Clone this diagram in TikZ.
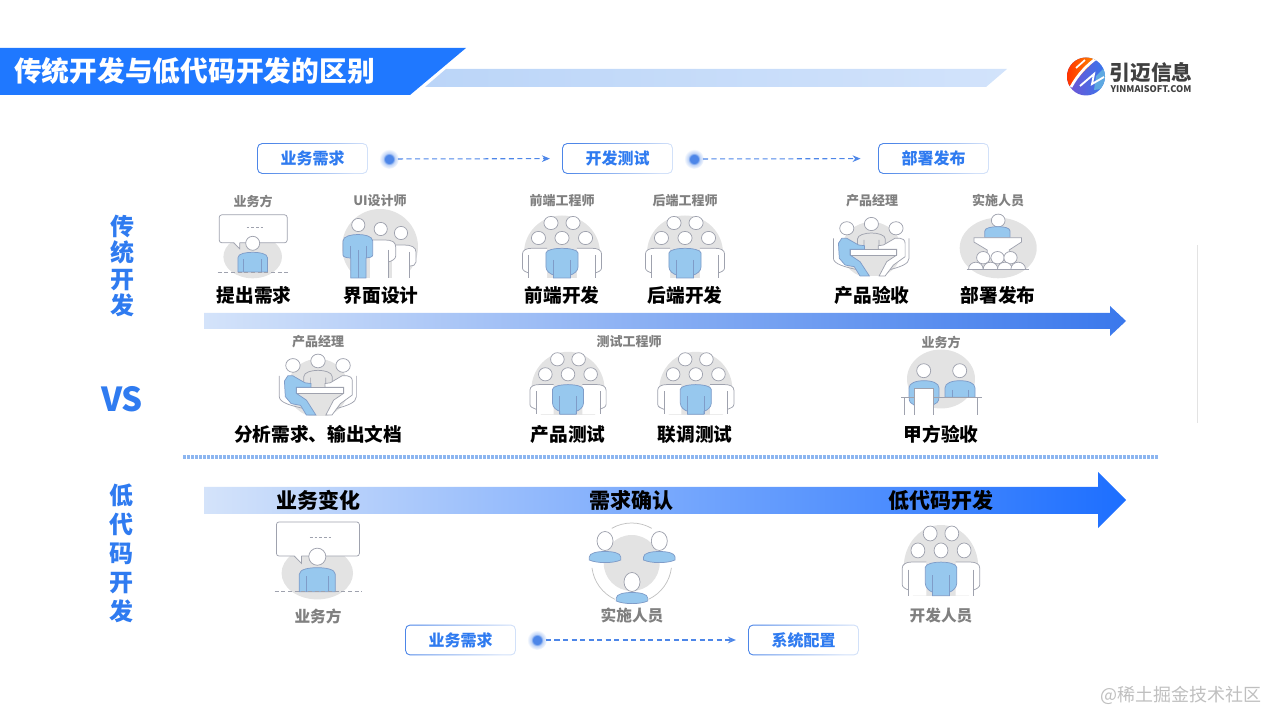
\documentclass[tikz,border=0pt]{standalone}
\usepackage{fontspec}
\setmainfont{Noto Sans CJK SC}
\usetikzlibrary{arrows.meta}
\definecolor{titleblue}{HTML}{1F78FF}
\definecolor{textblue}{HTML}{2F7BF0}
\definecolor{bandblue}{HTML}{BBD5F8}
\definecolor{bandpale}{HTML}{D2E3FB}
\definecolor{barpale}{HTML}{D4E3FA}
\definecolor{barend}{HTML}{3A78EC}
\definecolor{bodyblue}{HTML}{97C8EE}
\definecolor{bodyline}{HTML}{7F9CC8}
\definecolor{discgray}{HTML}{E3E3E3}
\definecolor{linegray}{HTML}{9FA2AE}
\definecolor{rolegray}{HTML}{808080}
\definecolor{dashblue}{HTML}{4D86E8}
\definecolor{dividerblue}{HTML}{8DB6F0}
\pgfdeclareradialshading{dotglow}{\pgfpoint{0bp}{0bp}}{color(0bp)=(dashblue); color(10bp)=(dashblue); color(15bp)=(dashblue!35!white); color(25bp)=(white); color(50bp)=(white)}
\tikzset{
  disc/.style={fill=discgray},
  blue body/.style={fill=bodyblue, draw=bodyline, line width=0.55pt},
  white body/.style={fill=white, draw=linegray, line width=0.55pt},
  thin line/.style={draw=linegray, line width=0.55pt},
  head/.style={fill=white, draw=linegray, line width=0.55pt},
  stepbox/.style={rounded corners=3.5pt, minimum width=83pt, minimum height=23pt, inner sep=0pt,
    left color=dashblue, right color=dashblue!25!white, shading angle=70,
    text=textblue, font=\bfseries\fontsize{12}{14}\selectfont,
    path picture={\fill[white, rounded corners=2.8pt]
      ([shift={(0.8pt,0.8pt)}]path picture bounding box.south west) rectangle
      ([shift={(-0.8pt,-0.8pt)}]path picture bounding box.north east);}},
  glowdot/.style={circle, minimum size=15pt, inner sep=0pt, shading=dotglow},
  flow/.style={dash pattern=on 3.8pt off 2.6pt, draw=dashblue, line width=0.8pt, -{Stealth[length=6pt, width=5pt]}, shorten <=-1pt, shorten >=9pt},
  task/.style={font=\bfseries\fontsize{14}{16}\selectfont, text=black, inner sep=0pt},
  role/.style={font=\bfseries\fontsize{9.75}{11}\selectfont, text=rolegray, inner sep=0pt},
  bigrole/.style={font=\bfseries\fontsize{11.75}{13}\selectfont, text=rolegray, inner sep=0pt},
  bartask/.style={font=\bfseries\fontsize{15.75}{18}\selectfont, text=black, inner sep=0pt},
  sidetext/.style={font=\bfseries\fontsize{18}{#1}\selectfont, text=textblue, align=center, inner sep=0pt},
  %% seven people drawn around the origin of the pic
  pics/crowd/.style={code={
    \begin{scope}
      \clip (-40,-40) rectangle (40,28);
      \fill[disc] (0,3) ellipse (35.5 and 37.5);
    \end{scope}
    \foreach \hx/\hy in {-10.3/-27,10.3/-27,-22/-12,0/-12,22/-12} {
      \draw[head] (\hx,\hy) circle (6.6);
    }
    \foreach \s in {-1,1} {
      \begin{scope}[xscale=\s]
        \path[fill=white] (-14,-1.7) -- (-28.3,-1.7) .. controls (-33,-1.7) and (-37,0) .. (-37,4) -- (-37,18) .. controls (-37,20.5) and (-34,22) .. (-31,23) -- (-31,28) -- (-14,28) -- cycle;
        \draw[thin line] (-14,-1.7) -- (-28.3,-1.7) .. controls (-33,-1.7) and (-37,0) .. (-37,4) -- (-37,18) .. controls (-37,20.5) and (-34,22) .. (-31,23);
        \draw[thin line] (-31,5) -- (-31,28);
      \end{scope}
    }
    \draw[blue body] (-15,3) .. controls (-15,0) and (-7,-1.7) .. (0,-1.7) .. controls (7,-1.7) and (15,0) .. (15,3) -- (15,17) .. controls (15,21) and (11,24) .. (8,25) -- (8,28) -- (-8,28) -- (-8,25) .. controls (-11,24) and (-15,21) .. (-15,17) -- cycle;
    \draw[bodyline, line width=0.55pt] (-8,10) -- (-8,28) (8,10) -- (8,28);
  }},
  %% three people round a table
  pics/meeting/.style={code={
    \begin{scope}
      \clip (-40,-40) rectangle (40,26);
      \fill[disc] (0,0) circle (28);
    \end{scope}
    \draw[head] (-23,-21.7) circle (6.6) (0,-26) circle (6.6) (23,-21.7) circle (6.6);
    \draw[thin line] (-13,-1) -- (-13,-11) .. controls (-13,-15) and (-6,-17) .. (0,-17) .. controls (6,-17) and (13,-15) .. (13,-11) -- (13,-1) (-7,-10) -- (-7,-1) (7,-10) -- (7,-1);
    \draw[thin line] (-35.5,-11.7) -- (-35.5,8.3) .. controls (-35.5,14) and (-25,17) .. (-12,20);
    \draw[thin line] (35.2,-11.7) -- (35.2,8.3) .. controls (35.2,14) and (27,17) .. (15.9,20);
    \draw[white body] (31.5,-6.7) .. controls (31.5,-10) and (29,-11.7) .. (26.8,-11.7) -- (22,-11.7) -- (11.2,-5) -- (6.5,-4.3) -- (6.5,-0.7) -- (23.7,-0.7) -- (23.7,5) -- (14.3,11.7) -- (7.2,26) -- (12.8,26) -- (20.6,15) -- (31.5,6.7) -- cycle;
    \fill[white] (-20,-0.7) rectangle (23.7,5);
    \draw[thin line] (-20,-0.7) rectangle (23.7,5);
    \draw[blue body] (-30.8,-6.7) -- (-27.7,-11.7) -- (-23,-11.7) -- (-12,-5) -- (-6.5,-4.3) -- (-6.5,-0.7) -- (-20,-0.7) -- (-20,5) -- (-10.6,11.7) -- (-1.9,26) -- (-10.6,26) -- (-16,16.7) -- (-24.6,15) -- (-30,8.3) -- cycle;
  }},
  %% one person under a speech bubble
  pics/speaker/.style={code={
    \fill[disc] (0,13.5) ellipse (29.3 and 21.5);
    \draw[white body, rounded corners=2pt] (-33.5,-28.5) rectangle (34.5,-0.5);
    \fill[white] (-19,-1.5) -- (-13,5) -- (-13,-1.5) -- cycle;
    \draw[thin line] (-19,-0.5) -- (-13,5.5) -- (-13,-0.5);
    \draw[thin line, dash pattern=on 2pt off 1.5pt] (-6,-15.5) -- (11,-15.5);
    \draw[head] (0,0) circle (7);
    \draw[blue body] (-14.8,28.7) -- (-14.8,14.5) .. controls (-14.8,10) and (-6,9) .. (0,9) .. controls (6,9) and (14.8,10) .. (14.8,14.5) -- (14.8,28.7) -- cycle;
    \draw[bodyline, line width=0.55pt] (-9,16) -- (-9,28.7) (9,16) -- (9,28.7);
    \draw[thin line, dash pattern=on 3pt off 2pt] (-35,28.7) -- (37,28.7);
  }},
  %% one person at a lectern, audience below
  pics/lectern/.style={code={
    \fill[disc] (0,0) ellipse (36 and 30.3);
    \draw[head] (0,-27.5) circle (6.4);
    \draw[blue body] (-12.5,-10.3) -- (-12.5,-17) .. controls (-12.5,-20) and (-7,-21.3) .. (0,-21.3) .. controls (6,-21.3) and (11,-20) .. (11,-17) -- (11,-10.3) -- cycle;
    \draw[white body] (-22.7,-10.3) -- (21.8,-10.3) -- (21.8,-6) -- (10.3,2) -- (10.3,10) -- (-10.3,10) -- (-10.3,2) -- (-22.7,-6) -- cycle;
    \foreach \hx in {-14,-0.6,11.5} {
      \draw[head] (\hx,9.7) circle (6.2);
    }
    \foreach \hx in {-20.9,-7.2,6.2,18.7} {
      \path[fill=white] (\hx-6.8,21) arc[start angle=-180, end angle=0, radius=6.8] -- cycle;
      \draw[thin line] (\hx-6.8,21) arc[start angle=-180, end angle=0, radius=6.8];
    }
    \draw[thin line] (-29.6,21) -- (28.7,21);
  }}
}
\begin{document}
\begin{tikzpicture}[x=0.75pt, y=-0.75pt]
  \useasboundingbox (0,0) rectangle (1267,712);
  % title banner
  \path[left color=bandblue, right color=bandpale] (425,87) -- (446,69) -- (1007,69) -- (986,87) -- cycle;
  \fill[titleblue] (0,48) -- (466,48) -- (410,95) -- (0,95) -- cycle;
  \node[text=white, font=\bfseries\fontsize{20.8}{24}\selectfont, anchor=west, inner sep=0pt] (title) at (14,71) {传统开发与低代码开发的区别};
  % logo
  \begin{scope}
    \clip (1086,76.5) circle (19);
    \shade[left color=blue!45!violet!70!white, right color=textblue] (1060,55) rectangle (1110,100);
    \shade[left color=red!70!orange, right color=orange!85!yellow] (1062,55) -- (1100,55) -- (1064,92) -- cycle;
    \fill[cyan!70!blue!65!white] (1110,62) -- (1110,88) -- (1094,90) -- (1096,76) -- cycle;
    \draw[white, line width=2pt] (1097,58) .. controls (1088,64) and (1078,74) .. (1071,87);
    \draw[white, line width=1.3pt] (1076,68) -- (1085,60);
    \draw[white, line width=1.4pt] (1080,86) -- (1094,74) -- (1092,84) -- (1104,77);
  \end{scope}
  \node[text=black!75, font=\bfseries\fontsize{15.6}{18}\selectfont, inner sep=0pt] (logotext) at (1151,73) {引迈信息};
  \node[text=black!75, font=\bfseries\fontsize{6.9}{8}\selectfont, inner sep=0pt] (logourl) at (1151,89) {YINMAISOFT.COM};
  % top flow
  \node[stepbox] (need) at (312.5,158.5) {业务需求};
  \node[stepbox] (dev) at (617.5,158.5) {开发测试};
  \node[stepbox] (release) at (933.5,158.5) {部署发布};
  \node[glowdot] (needdot) at (389,159) {};
  \node[glowdot] (devdot) at (694,159) {};
  \draw[flow] (needdot) -- (dev);
  \draw[flow, shorten >=13pt] (devdot) -- (release);
  % side labels
  \node[sidetext=19.9] (oldlabel) at (122,266) {传\\统\\开\\发};
  \node[sidetext=21.75] (lowlabel) at (121,553) {低\\代\\码\\开\\发};
  \node[text=textblue, font=\bfseries\fontsize{24.8}{28}\selectfont, inner sep=0pt] (vs) at (122,399) {VS};
  % role labels
  \foreach \a/\p [count=\n] in {业务方/{253,201},UI设计师/{380,201},前端工程师/{562,201},后端工程师/{685,201},产品经理/{872,201},实施人员/{998,201},产品经理/{318,342},测试工程师/{629,342},业务方/{941,342}} {
    \node[role] (role\n) at (\p) {\a};
  }
  % task labels
  \foreach \a/\p [count=\n] in {提出需求/{254,295.5},界面设计/{381,295.5},前端开发/{562,295.5},后端开发/{685,295.5},产品验收/{872,295.5},部署发布/{998,295.5},分析需求、输出文档/{318,434.5},产品测试/{568,434.5},联调测试/{695,434.5},甲方验收/{941,434.5}} {
    \node[task] (task\n) at (\p) {\a};
  }
  % icons, top row
  \pic at (252.7,243.3) {speaker};
  \pic[xscale=1.07] at (562,250) {crowd};
  \pic[xscale=1.07] at (685,250) {crowd};
  \pic[xscale=1.07] at (871.4,250) {meeting};
  \pic[xscale=1.07] at (998.2,248) {lectern};
  % three people in a row
  \begin{scope}
    \clip (335,210) rectangle (425,278);
    \fill[disc] (380,247) circle (38);
  \end{scope}
  \draw[head] (401,233) circle (6.6);
  \path[fill=white] (392,245) -- (404,245) .. controls (411,245) and (416,247) .. (416,252) -- (416,262) .. controls (416,265) and (413,266) .. (409.3,266) -- (409.3,278) -- (392,278) -- cycle;
  \draw[thin line] (392,245) -- (404,245) .. controls (411,245) and (416,247) .. (416,252) -- (416,262) .. controls (416,265) and (413,266) .. (409.3,266);
  \draw[thin line] (409.3,252) -- (409.3,278);
  \draw[head] (380.7,229) circle (6.6);
  \path[fill=white] (370,240) -- (385,240) .. controls (392,240) and (395.7,242) .. (395.7,247) -- (395.7,256) .. controls (395.7,259) and (392,261) .. (388.3,262) -- (388.3,278) -- (370,278) -- cycle;
  \draw[thin line] (370,240) -- (385,240) .. controls (392,240) and (395.7,242) .. (395.7,247) -- (395.7,256) .. controls (395.7,259) and (392,261) .. (388.3,262);
  \draw[thin line] (388.3,250) -- (388.3,278);
  \draw[head] (358.3,225) circle (6.6);
  \draw[blue body] (343,241) .. controls (343,236) and (352,234.5) .. (358,234.5) .. controls (364,234.5) and (372.7,236) .. (372.7,241) -- (372.7,255) .. controls (372.7,257) and (369,258) .. (366,258) -- (366,278) -- (350.7,278) -- (350.7,258) .. controls (347,258) and (343,257) .. (343,255) -- cycle;
  \draw[bodyline, line width=0.55pt] (358.3,250) -- (358.3,278) (350.7,246) -- (350.7,258) (366,246) -- (366,258);
  % first arrow
  \path[left color=barpale, right color=barend] (204,313) -- (1110,313) -- (1110,306) -- (1126,321) -- (1110,336) -- (1110,329) -- (204,329) -- cycle;
  % icons, middle row
  \pic[xscale=1.09, yscale=1.04] at (318,388) {meeting};
  \pic[xscale=1.03] at (568,386.3) {crowd};
  \pic[xscale=1.03] at (695.8,386.3) {crowd};
  % two people behind a desk
  \begin{scope}
    \clip (900,340) rectangle (985,415);
    \fill[disc] (941,379) ellipse (34 and 29.5);
  \end{scope}
  \draw[head] (923.7,370.7) circle (7) (959.7,370.7) circle (7);
  \draw[blue body] (945,397.3) -- (945,388) .. controls (945,383) and (952,380.7) .. (960,380.7) .. controls (968,380.7) and (975,383) .. (975,388) -- (975,397.3) -- cycle;
  \draw[bodyline, line width=0.55pt] (952,390) -- (952,397.3) (968,390) -- (968,397.3);
  \draw[blue body] (909,388) .. controls (909,383) and (916,380.7) .. (924,380.7) .. controls (932,380.7) and (939,383) .. (939,388) -- (939,397) .. controls (939,402) and (936,404) .. (933,405) -- (914,405) .. controls (911,404) and (909,402) .. (909,397) -- cycle;
  \draw[white body, fill=white] (914.3,415) -- (914.3,388) -- (933.3,388) -- (933.3,415);
  \draw[thin line] (901,397.3) -- (914.3,397.3) (933.3,397.3) -- (981.7,397.3);
  \draw[thin line] (904.3,397.3) -- (904.3,415) (977.7,397.3) -- (977.7,415);
  % divider
  \draw[dividerblue, line width=2.4pt, dash pattern=on 2pt off 1pt] (183,457) -- (1158,457);
  \draw[discgray, line width=0.6pt] (1197,245) -- (1197,423);
  % second arrow
  \path[left color=barpale, right color=titleblue!92!blue] (204,487) -- (1098,487) -- (1098,472) -- (1126,500) -- (1098,528) -- (1098,514) -- (204,514) -- cycle;
  \node[bartask] (changes) at (318,500) {业务变化};
  \node[bartask] (confirm) at (631,500) {需求确认};
  \node[bartask] (lowdev) at (941,500) {低代码开发};
  % icons, bottom row
  \pic[scale=1.22] at (317.3,556.7) {speaker};
  \pic[xscale=1.05, yscale=1.13] at (941,564) {crowd};
  % three people in a ring
  \fill[disc] (631.7,563) circle (28);
  \draw[discgray!85!black, line width=0.55pt] (631.7,563) ++(-120:40) arc[start angle=-120, end angle=-60, radius=40];
  \draw[discgray!85!black, line width=0.55pt] (631.7,563) ++(173:40) arc[start angle=173, end angle=115, radius=40];
  \draw[discgray!85!black, line width=0.55pt] (631.7,563) ++(7:40) arc[start angle=7, end angle=65, radius=40];
  \foreach \hx/\hy in {605/541,659.3/541,632/582} {
    \draw[blue body] (\hx-15.7,\hy+16) .. controls (\hx-15.7,\hy+12) and (\hx-8,\hy+10.5) .. (\hx,\hy+10.5) .. controls (\hx+8,\hy+10.5) and (\hx+15.7,\hy+12) .. (\hx+15.7,\hy+16) -- (\hx+15.7,\hy+19) .. controls (\hx+8,\hy+22.5) and (\hx-8,\hy+22.5) .. (\hx-15.7,\hy+19) -- cycle;
    \draw[head] (\hx,\hy) ellipse (8 and 9.5);
  }
  % bottom labels
  \node[bigrole] (ask) at (318,616) {业务方};
  \node[bigrole] (impl) at (632,616) {实施人员};
  \node[bigrole] (devs) at (941,616) {开发人员};
  % bottom flow
  \node[stepbox] (lowneed) at (460.5,640) {业务需求};
  \node[stepbox] (config) at (803.5,640) {系统配置};
  \node[glowdot] (lowdot) at (537,640) {};
  \draw[flow] (lowdot) -- (config);
  % watermark
  \node[text=black!25, font=\fontsize{13.5}{15}\selectfont, anchor=east, inner sep=0pt] (mark) at (1262,695) {@稀土掘金技术社区};
\end{tikzpicture}
\end{document}
